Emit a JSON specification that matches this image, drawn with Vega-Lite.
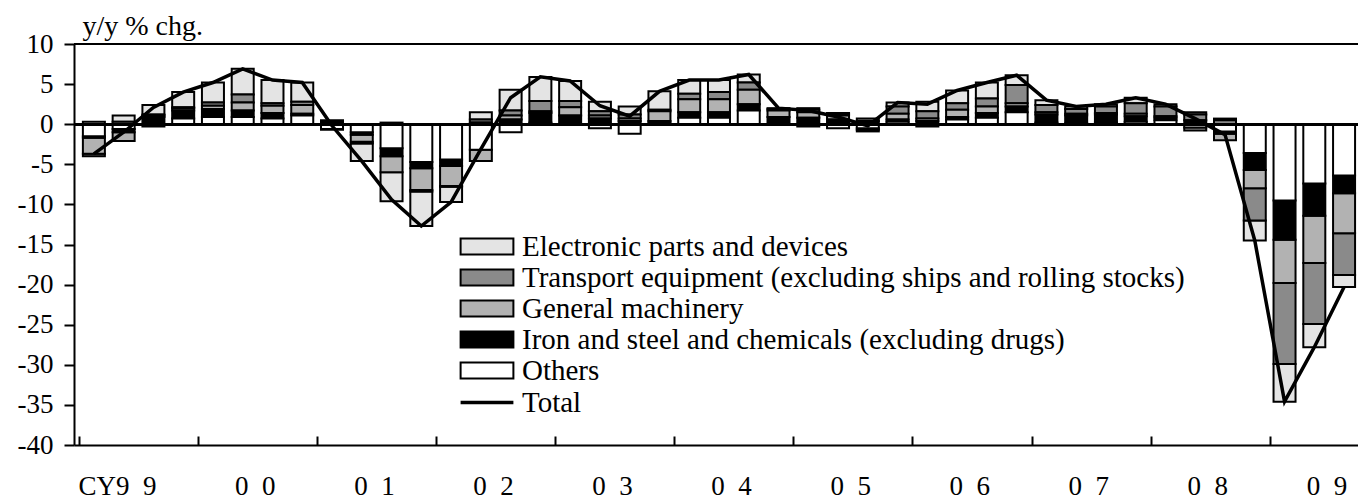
{
  "$schema": "https://vega.github.io/schema/vega-lite/v6.json",
  "width": 1284,
  "height": 401,
  "autosize": {"type": "none"},
  "padding": {"left": 74, "top": 44, "right": 0, "bottom": 54},
  "background": "white",
  "config": {
    "view": {"stroke": null},
    "font": "Liberation Serif",
    "axis": {"grid": false, "domainColor": "black", "domainWidth": 2, "tickColor": "black", "tickWidth": 2, "labelColor": "black", "labelFontSize": 27, "labelFlush": false, "labelOverlap": false, "labelBound": false}
  },
  "data": {"values": [
    {"t": 1999.125, "O": -1.5, "I": -0.2, "G": -2.0, "T": -0.3, "E": 0.3, "Total": -3.7},
    {"t": 1999.375, "O": -0.6, "I": -0.4, "G": -1.1, "T": 0.3, "E": 0.8, "Total": -1.0},
    {"t": 1999.625, "O": -0.3, "I": 0.9, "G": 0.2, "T": 0.1, "E": 1.2, "Total": 2.1},
    {"t": 1999.875, "O": 0.7, "I": 1.0, "G": 0.3, "T": 0.1, "E": 1.9, "Total": 4.0},
    {"t": 2000.125, "O": 0.9, "I": 1.0, "G": 0.4, "T": 0.4, "E": 2.5, "Total": 5.2},
    {"t": 2000.375, "O": 0.9, "I": 0.8, "G": 1.0, "T": 1.0, "E": 3.2, "Total": 6.9},
    {"t": 2000.625, "O": 0.7, "I": 0.7, "G": 0.9, "T": 0.3, "E": 2.9, "Total": 5.5},
    {"t": 2000.875, "O": 1.1, "I": 0.2, "G": 1.1, "T": 0.4, "E": 2.4, "Total": 5.2},
    {"t": 2001.125, "O": -0.6, "I": 0.2, "G": 0.1, "T": -0.1, "E": 0.2, "Total": -0.2},
    {"t": 2001.375, "O": -1.0, "I": -0.3, "G": -0.9, "T": -0.2, "E": -2.2, "Total": -4.6},
    {"t": 2001.625, "O": -3.0, "I": -1.0, "G": -2.0, "T": 0.2, "E": -3.6, "Total": -9.4},
    {"t": 2001.875, "O": -4.7, "I": -0.8, "G": -2.7, "T": -0.2, "E": -4.3, "Total": -12.7},
    {"t": 2002.125, "O": -4.4, "I": -0.8, "G": -2.5, "T": -0.1, "E": -1.9, "Total": -9.7},
    {"t": 2002.375, "O": -3.2, "I": 0.2, "G": -1.4, "T": 0.4, "E": 0.9, "Total": -3.1},
    {"t": 2002.625, "O": -1.0, "I": 0.6, "G": 0.5, "T": 0.6, "E": 2.6, "Total": 3.3},
    {"t": 2002.875, "O": 0.2, "I": 1.2, "G": 0.2, "T": 1.3, "E": 3.0, "Total": 5.9},
    {"t": 2003.125, "O": 0.0, "I": 1.1, "G": 1.0, "T": 0.8, "E": 2.5, "Total": 5.4},
    {"t": 2003.375, "O": -0.5, "I": 0.7, "G": 0.4, "T": 0.5, "E": 1.2, "Total": 2.3},
    {"t": 2003.625, "O": -1.2, "I": 0.4, "G": 0.3, "T": 0.5, "E": 1.0, "Total": 1.0},
    {"t": 2003.875, "O": 0.1, "I": 0.3, "G": 1.2, "T": 0.2, "E": 2.3, "Total": 4.1},
    {"t": 2004.125, "O": 0.8, "I": 0.7, "G": 1.6, "T": 0.7, "E": 1.7, "Total": 5.5},
    {"t": 2004.375, "O": 0.8, "I": 0.7, "G": 1.6, "T": 0.9, "E": 1.5, "Total": 5.5},
    {"t": 2004.625, "O": 1.7, "I": 0.8, "G": 1.8, "T": 0.9, "E": 1.0, "Total": 6.2},
    {"t": 2004.875, "O": 0.0, "I": 0.9, "G": 0.8, "T": 0.2, "E": 0.1, "Total": 2.0},
    {"t": 2005.125, "O": -0.3, "I": 0.8, "G": 0.7, "T": 0.3, "E": 0.2, "Total": 1.7},
    {"t": 2005.375, "O": -0.5, "I": 0.6, "G": 0.5, "T": 0.2, "E": 0.1, "Total": 0.9},
    {"t": 2005.625, "O": -0.5, "I": 0.4, "G": -0.2, "T": 0.3, "E": -0.2, "Total": -0.2},
    {"t": 2005.875, "O": 0.3, "I": 0.3, "G": 0.7, "T": 0.9, "E": 0.5, "Total": 2.7},
    {"t": 2006.125, "O": -0.3, "I": 0.4, "G": 0.3, "T": 0.9, "E": 1.2, "Total": 2.5},
    {"t": 2006.375, "O": 0.6, "I": 0.3, "G": 0.9, "T": 0.8, "E": 1.6, "Total": 4.2},
    {"t": 2006.625, "O": 0.8, "I": 0.6, "G": 0.8, "T": 1.0, "E": 2.0, "Total": 5.2},
    {"t": 2006.875, "O": 1.5, "I": 0.7, "G": 0.4, "T": 2.3, "E": 1.2, "Total": 6.1},
    {"t": 2007.125, "O": 0.2, "I": 1.0, "G": 0.3, "T": 0.9, "E": 0.6, "Total": 3.0},
    {"t": 2007.375, "O": 0.1, "I": 1.0, "G": 0.2, "T": 0.6, "E": 0.3, "Total": 2.2},
    {"t": 2007.625, "O": 0.2, "I": 1.0, "G": 0.2, "T": 0.8, "E": 0.3, "Total": 2.5},
    {"t": 2007.875, "O": 0.3, "I": 0.7, "G": 0.3, "T": 1.3, "E": 0.7, "Total": 3.3},
    {"t": 2008.125, "O": 0.5, "I": 0.3, "G": 0.2, "T": 1.2, "E": 0.3, "Total": 2.5},
    {"t": 2008.375, "O": -0.4, "I": 0.5, "G": -0.4, "T": 0.7, "E": 0.3, "Total": 0.7},
    {"t": 2008.625, "O": -0.9, "I": -0.3, "G": -0.8, "T": 0.5, "E": 0.2, "Total": -1.3},
    {"t": 2008.875, "O": -3.6, "I": -2.1, "G": -2.3, "T": -4.0, "E": -2.5, "Total": -14.5},
    {"t": 2009.125, "O": -9.5, "I": -4.9, "G": -5.4, "T": -10.1, "E": -4.7, "Total": -34.6},
    {"t": 2009.375, "O": -7.4, "I": -4.0, "G": -5.9, "T": -7.6, "E": -2.9, "Total": -27.8},
    {"t": 2009.625, "O": -6.4, "I": -2.2, "G": -5.0, "T": -5.2, "E": -1.5, "Total": -20.3}
  ]},
  "layer": [
    {
      "transform": [
        {"fold": ["E", "T", "G", "I", "O"], "as": ["key", "value"]},
        {"calculate": "indexof(['O','I','G','T','E'], datum.key)", "as": "ord"}
      ],
      "mark": {"type": "bar", "width": 22, "stroke": "black", "strokeWidth": 2, "clip": true},
      "encoding": {
        "x": {
          "field": "t", "type": "quantitative",
          "scale": {"domain": [1999, 2009.7], "nice": false, "zero": false},
          "axis": {
            "title": null,
            "values": [1999, 2000, 2001, 2002, 2003, 2004, 2005, 2006, 2007, 2008, 2009],
            "tickSize": -9,
            "labelPadding": 37,
            "labelOffset": 77,
            "labelAlign": "right",
            "labelBaseline": "top",
            "labelExpr": "datum.value == 1999 ? 'CY9\u00a0\u00a09' : '0\u00a0\u00a0' + (datum.value - 2000)"
          }
        },
        "y": {
          "field": "value", "type": "quantitative", "stack": "zero",
          "scale": {"domain": [-40, 10], "nice": false},
          "axis": {
            "title": "y/y % chg.", "titleAngle": 0, "titleAlign": "left", "titleBaseline": "alphabetic",
            "titleX": 8, "titleY": -10, "titleFontSize": 28, "titleFontWeight": "normal", "titleColor": "black",
            "values": [-40, -35, -30, -25, -20, -15, -10, -5, 0, 5, 10],
            "tickSize": 10,
            "labelPadding": 11,
            "labelExpr": "'' + datum.value"
          }
        },
        "fill": {
          "field": "key", "type": "nominal",
          "scale": {"domain": ["E", "T", "G", "I", "O"], "range": ["#e4e4e4", "#8a8a8a", "#b2b2b2", "#000000", "#ffffff"]},
          "legend": {
            "title": null, "orient": "none", "legendX": 398.5, "legendY": 188, "padding": 0,
            "symbolType": "M-3.3,-1L3.3,-1L3.3,1L-3.3,1Z", "symbolSize": 256,
            "symbolStrokeColor": "black", "symbolStrokeWidth": 2, "symbolOpacity": 1,
            "labelFontSize": 29, "labelColor": "black", "labelOffset": 20.5, "labelLimit": 1000, "rowPadding": 1,
            "labelExpr": "{'E': 'Electronic parts and devices', 'T': 'Transport equipment (excluding ships and rolling stocks)', 'G': 'General machinery', 'I': 'Iron and steel and chemicals (excluding drugs)', 'O': 'Others'}[datum.value]"
          }
        },
        "order": {"field": "ord", "type": "quantitative"}
      }
    },
    {
      "mark": {"type": "rule", "color": "black", "strokeWidth": 2},
      "encoding": {"y": {"datum": 0, "type": "quantitative"}}
    },
    {
      "mark": {"type": "rule", "color": "black", "strokeWidth": 2},
      "encoding": {"y": {"datum": 10, "type": "quantitative"}}
    },
    {
      "mark": {"type": "line", "strokeWidth": 3.5, "clip": true},
      "encoding": {
        "x": {"field": "t", "type": "quantitative"},
        "y": {"field": "Total", "type": "quantitative"},
        "stroke": {
          "datum": "Total", "type": "nominal",
          "scale": {"domain": ["Total"], "range": ["black"]},
          "legend": {
            "title": null, "orient": "none", "legendX": 398.5, "legendY": 344, "padding": 0,
            "symbolType": "M-3.3,0L3.3,0", "symbolSize": 256, "symbolStrokeWidth": 3.5,
            "labelFontSize": 29, "labelColor": "black", "labelOffset": 20.5, "labelLimit": 1000
          }
        }
      }
    }
  ]
}
